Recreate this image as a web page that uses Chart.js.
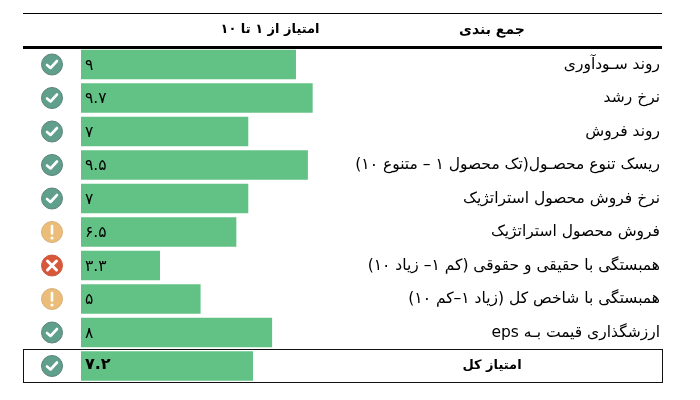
<!DOCTYPE html>
<html lang="fa">
<head>
<meta charset="UTF-8">
<title>جمع بندی</title>
<script src="https://cdn.jsdelivr.net/npm/chart.js"></script>
<style>
    html, body { margin: 0; padding: 0; background: #fff; }
    #wrap { position: relative; width: 700px; height: 400px; }
</style>
</head>
<body>
<div id="wrap"><canvas id="scoreChart" width="700" height="400"></canvas></div>
<script>
const categories = [
    "روند سـودآوری",
    "نرخ رشد",
    "روند فروش",
    "ریسک تنوع محصـول(تک محصول ۱ – متنوع ۱۰)",
    "نرخ فروش محصول استراتژیک",
    "فروش محصول استراتژیک",
    "همبستگی با حقیقی و حقوقی (کم ۱– زیاد ۱۰)",
    "همبستگی با شاخص کل (زیاد ۱–کم ۱۰)",
    "ارزشگذاری قیمت بـه eps",
    "امتیاز کل"
];
const scores = [9, 9.7, 7, 9.5, 7, 6.5, 3.3, 5, 8, 7.2];
const scoreLabels = ["۹", "۹.۷", "۷", "۹.۵", "۷", "۶.۵", "۳.۳", "۵", "۸", "۷.۲"];
const statuses = ["ok", "ok", "ok", "ok", "ok", "warn", "bad", "warn", "ok", "ok"];
const headerLabel = "جمع بندی";
const headerScore = "امتیاز از ۱ تا ۱۰";

const statusColors = { ok: "#5f9f8c", warn: "#ebbd78", bad: "#d8573a" };
const FONT = '"DejaVu Sans"';

function drawIcon(ctx, x, y, status) {
    ctx.save();
    ctx.beginPath();
    ctx.arc(x, y, 10.5, 0, Math.PI * 2);
    ctx.fillStyle = statusColors[status];
    ctx.fill();
    ctx.lineWidth = 1;
    ctx.strokeStyle = status === "ok" ? "#5d8379" : (status === "warn" ? "#d9b07a" : "#c9583f");
    ctx.stroke();
    ctx.strokeStyle = "#fff";
    ctx.lineCap = "round";
    ctx.lineJoin = "round";
    ctx.lineWidth = 2.6;
    ctx.beginPath();
    if (status === "ok") {
        ctx.moveTo(x - 5, y + 0.5);
        ctx.lineTo(x - 1.5, y + 3.5);
        ctx.lineTo(x + 5, y - 3.5);
        ctx.stroke();
    } else if (status === "bad") {
        ctx.lineWidth = 3;
        ctx.moveTo(x - 4.5, y - 4.5);
        ctx.lineTo(x + 4.5, y + 4.5);
        ctx.moveTo(x + 4.5, y - 4.5);
        ctx.lineTo(x - 4.5, y + 4.5);
        ctx.stroke();
    } else {
        ctx.moveTo(x, y - 6);
        ctx.lineTo(x, y + 1.5);
        ctx.stroke();
        ctx.beginPath();
        ctx.arc(x, y + 6, 1.6, 0, Math.PI * 2);
        ctx.fillStyle = "#fff";
        ctx.fill();
    }
    ctx.restore();
}

const tablePlugin = {
    id: "tablePlugin",
    afterDatasetsDraw(chart) {
        const ctx = chart.ctx;
        const y = chart.scales.y;
        const x = chart.scales.x;
        const last = categories.length - 1;

        // rules and total box
        ctx.save();
        ctx.fillStyle = "#000";
        ctx.fillRect(23, 13, 639, 1);
        ctx.fillRect(23, 46, 639, 3);
        ctx.strokeStyle = "#111";
        ctx.lineWidth = 1;
        ctx.strokeRect(23.5, 349.5, 639, 33);
        ctx.restore();

        ctx.save();
        ctx.fillStyle = "#000";
        ctx.textBaseline = "middle";
        ctx.direction = "rtl";
        ctx.textAlign = "center";
        ctx.font = "bold 14px " + FONT;
        ctx.fillText(headerLabel, 492, 30);
        ctx.font = "bold 13px " + FONT;
        ctx.fillText(headerScore, 270, 30);

        categories.forEach((label, i) => {
            const py = y.getPixelForValue(i);
            drawIcon(ctx, 52, py, statuses[i]);

            ctx.direction = "rtl";
            if (i === last) {
                ctx.textAlign = "center";
                ctx.font = "bold 13px " + FONT;
                ctx.fillText(label, 492, py);
            } else {
                ctx.textAlign = "right";
                ctx.font = "15.5px " + FONT;
                ctx.fillText(label, 660, py);
            }

            ctx.direction = "ltr";
            ctx.textAlign = "left";
            ctx.font = (i === last ? "bold 16px " : "15.5px ") + FONT;
            ctx.fillText(scoreLabels[i], x.getPixelForValue(0) + 4, py + (i === last ? -1 : 1));
        });
        ctx.restore();
    }
};

new Chart(document.getElementById("scoreChart"), {
    type: "bar",
    data: {
        labels: categories,
        datasets: [{
            data: scores,
            backgroundColor: "#62c285",
            borderWidth: 0,
            barThickness: 29
        }]
    },
    options: {
        indexAxis: "y",
        responsive: false,
        animation: false,
        layout: { padding: { left: 81, right: 380.5, top: 47.75, bottom: 17.25 } },
        plugins: { legend: { display: false }, tooltip: { enabled: false } },
        scales: {
            x: { display: false, min: 0, max: 10 },
            y: { display: false, offset: true, grid: { display: false } }
        }
    },
    plugins: [tablePlugin]
});
</script>
</body>
</html>
